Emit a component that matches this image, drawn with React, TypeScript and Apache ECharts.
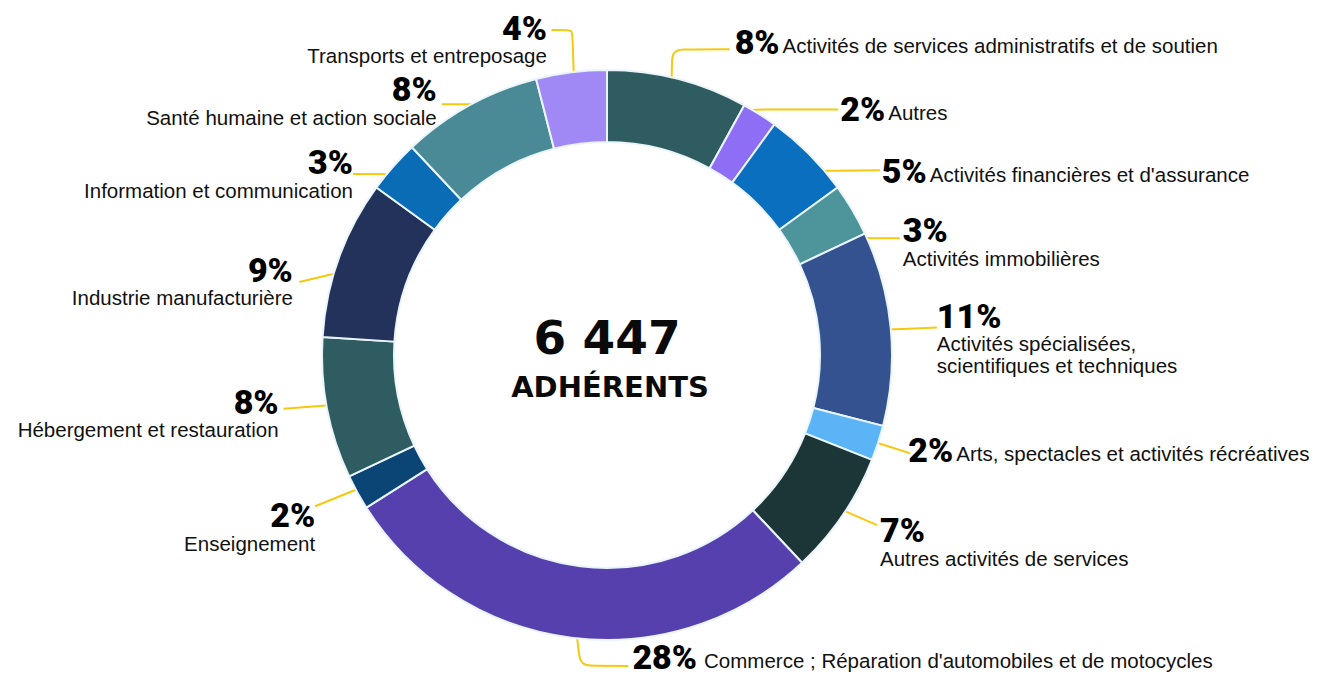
import React, { useEffect, useRef } from 'react';
import * as echarts from 'echarts';

// ---- Data ----
const CATEGORIES: string[] = [
  'Activités de services administratifs et de soutien',
  'Autres',
  "Activités financières et d'assurance",
  'Activités immobilières',
  'Activités spécialisées, scientifiques et techniques',
  'Arts, spectacles et activités récréatives',
  'Autres activités de services',
  "Commerce ; Réparation d'automobiles et de motocycles",
  'Enseignement',
  'Hébergement et restauration',
  'Industrie manufacturière',
  'Information et communication',
  'Santé humaine et action sociale',
  'Transports et entreposage',
];
const PERCENTS: number[] = [8, 2, 5, 3, 11, 2, 7, 28, 2, 8, 9, 3, 8, 4];
const CENTER_VALUE = '6 447';
const CENTER_LABEL = 'ADHÉRENTS';

// ---- Styles / layout ----
const COLORS: string[] = [
  '#2e5c61', '#8d6ef4', '#0b6fc0', '#4e959b', '#34528f', '#5ab4f5', '#1c3638',
  '#5540ad', '#0b4576', '#2f5c61', '#22325a', '#0a6cb5', '#4a8996', '#a189f5',
];

type LabelPos = { elbow: number[] | null; end: number[]; label: number[]; inline: boolean; wrap?: boolean; gap?: number };
// offsets relative to the anchor point computed by the pie
const LABEL_POS: LabelPos[] = [
  { elbow: [0, -54], end: [58, -54], label: [5, -7.5], inline: true },
  { elbow: [-4, -26], end: [92, -26], label: [2, -0.5], inline: true },
  { elbow: null, end: [89, -1], label: [2, 1], inline: true },
  { elbow: [1, 15.5], end: [69, 15.5], label: [3, -8], inline: false },
  { elbow: null, end: [71, -3], label: [0, -12], inline: false, wrap: true },
  { elbow: null, end: [56, 18], label: [-2, -3], inline: true },
  { elbow: null, end: [55, 24], label: [3, 5], inline: false },
  { elbow: [5.6, 53], end: [54, 53], label: [4, -9], inline: true, gap: 7 },
  { elbow: null, end: [-64, 26], label: [0, 9], inline: false },
  { elbow: null, end: [-68, 5], label: [-5, -7], inline: false },
  { elbow: null, end: [-63, 15], label: [-6.5, -12], inline: false },
  { elbow: [-12, -9], end: [-59, -9], label: [0, -12], inline: false },
  { elbow: [4, -23], end: [-40, -23], label: [-5, -15], inline: false },
  { elbow: [-2, -67], end: [-23, -67], label: [-4.5, -2.5], inline: false },
];

const CENTER = [607, 355];
const RING = [213, 285];
const ANCHOR_R = 260;
const PCT_SIZE = 34;
const PCT_LH = 34;
const TXT_LH = 22;
const PCT_FONT = "Roboto, 'Liberation Sans Narrow', sans-serif";
const TXT_FONT = "'Liberation Sans', Arial, sans-serif";

export default function App() {
  const ref = useRef<HTMLDivElement>(null);
  useEffect(() => {
    if (!ref.current) return;
    const chart = echarts.init(ref.current, undefined, { renderer: 'svg' });
    const data = CATEGORIES.map((name, i) => ({ name, value: PERCENTS[i] }));
    chart.setOption({
      animation: false,
      backgroundColor: '#ffffff',
      series: [
        {
          type: 'pie',
          center: CENTER,
          radius: RING,
          startAngle: 90,
          clockwise: true,
          silent: true,
          data: data.map((d, i) => ({ ...d, itemStyle: { color: COLORS[i] } })),
          itemStyle: { borderColor: '#eaf5fb', borderWidth: 2 },
          label: { show: false },
          labelLine: { show: false },
        },
        {
          type: 'pie',
          center: CENTER,
          radius: [0, ANCHOR_R],
          startAngle: 90,
          clockwise: true,
          silent: true,
          avoidLabelOverlap: false,
          data,
          itemStyle: { color: 'rgba(0,0,0,0)', borderWidth: 0 },
          label: {
            show: true,
            position: 'outside',
            formatter: (p: any) => {
              const i = p.dataIndex;
              const lp = LABEL_POS[i];
              const pct = `{p|${PERCENTS[i]}%}`;
              const name = lp.wrap ? CATEGORIES[i].replace(', ', ',\n') : CATEGORIES[i];
              if (lp.inline) return `${pct}{${lp.gap ? 'tw' : 'ti'}|${name}}`;
              return pct + '\n' + name.split('\n').map((s) => `{t|${s}}`).join('\n');
            },
            rich: {
              p: { fontFamily: PCT_FONT, fontWeight: 900, fontSize: PCT_SIZE, lineHeight: PCT_LH, color: '#000' },
              t: { fontFamily: TXT_FONT, fontSize: 20.5, lineHeight: TXT_LH, color: '#111' },
              ti: { fontFamily: TXT_FONT, fontSize: 20.5, lineHeight: TXT_LH, color: '#111', verticalAlign: 'bottom', padding: [0, 0, 3, 3] },
              tw: { fontFamily: TXT_FONT, fontSize: 20.5, lineHeight: TXT_LH, color: '#111', verticalAlign: 'bottom', padding: [0, 0, 3, 7] },
            },
          },
          labelLine: { show: true, length: 10, length2: 10, smooth: 0.12, lineStyle: { color: '#f5c90d', width: 2 } },
          labelLayout: (params: any) => {
            const i = params.dataIndex;
            const lp = LABEL_POS[i];
            const s = params.labelLinePoints[0];
            const start = [s[0], s[1]];
            const end = [start[0] + lp.end[0], start[1] + lp.end[1]];
            const elbow = lp.elbow
              ? [start[0] + lp.elbow[0], start[1] + lp.elbow[1]]
              : [(start[0] + end[0]) / 2, (start[1] + end[1]) / 2];
            const right = lp.end[0] > 0;
            return {
              x: end[0] + lp.label[0],
              y: end[1] + lp.label[1] - PCT_LH / 2,
              align: right ? 'left' : 'right',
              verticalAlign: 'top',
              labelLinePoints: [start, elbow, end],
            };
          },
        },
      ],
      graphic: [
        {
          type: 'text',
          x: CENTER[0],
          y: 337,
          style: {
            text: CENTER_VALUE,
            fontFamily: "'DejaVu Sans', sans-serif",
            fontWeight: 'bold',
            fontSize: 47,
            fill: '#0a0a0a',
            align: 'center',
            verticalAlign: 'middle',
          },
        },
        {
          type: 'text',
          x: CENTER[0] + 3,
          y: 387,
          style: {
            text: CENTER_LABEL,
            fontFamily: "'DejaVu Sans', sans-serif",
            fontWeight: 'bold',
            fontSize: 29,
            fill: '#0a0a0a',
            align: 'center',
            verticalAlign: 'middle',
          },
        },
      ],
    });
    return () => chart.dispose();
  }, []);
  return <div ref={ref} style={{ position: 'fixed', left: 0, top: 0, width: 1321, height: 677 }} />;
}
